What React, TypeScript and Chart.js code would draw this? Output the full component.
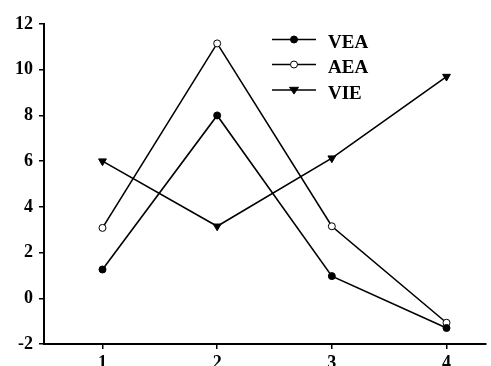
import React, { useEffect, useRef } from "react";
import { Chart, registerables } from "chart.js";

Chart.register(...registerables);

const categories = [1, 2, 3, 4];
const seriesNames = ["VEA", "AEA", "VIE"];
const veaValues = [1.26, 8.0, 0.97, -1.3];
const aeaValues = [3.08, 11.15, 3.15, -1.07];
const vieValues = [6.0, 3.15, 6.13, 9.7];
const yTicks = [-2, 0, 2, 4, 6, 8, 10, 12];

const FONT = "'Liberation Serif', 'DejaVu Serif', serif";

const legendPlugin = {
  id: "customLegend",
  afterDraw(chart: any) {
    const ctx = chart.ctx;
    const rows = [39.5, 64.5, 90];
    ctx.save();
    chart.data.datasets.forEach((ds: any, i: number) => {
      const y = rows[i];
      ctx.strokeStyle = "#000";
      ctx.lineWidth = 1.6;
      ctx.beginPath();
      ctx.moveTo(272, y);
      ctx.lineTo(316, y);
      ctx.stroke();
      ctx.beginPath();
      if (ds.pointStyle === "triangle") {
        const r = 4.5;
        ctx.moveTo(294 - r, y - r * 0.6);
        ctx.lineTo(294 + r, y - r * 0.6);
        ctx.lineTo(294, y + r * 0.9);
        ctx.closePath();
      } else {
        ctx.arc(294, y, 3.5, 0, Math.PI * 2);
      }
      ctx.fillStyle = ds.pointBackgroundColor;
      ctx.fill();
      ctx.lineWidth = 1;
      ctx.stroke();
      ctx.fillStyle = "#000";
      ctx.font = `bold 19px ${FONT}`;
      ctx.textBaseline = "alphabetic";
      ctx.textAlign = "left";
      ctx.fillText(seriesNames[i], 328, y + 8.5);
    });
    ctx.restore();
  },
};

export default function App() {
  const ref = useRef<HTMLCanvasElement>(null);
  useEffect(() => {
    document.body.style.margin = "0";
    const mk = (vals: number[]) => categories.map((c, i) => ({ x: c, y: vals[i] }));
    const chart = new Chart(ref.current!, {
      type: "line",
      data: {
        datasets: [
          {
            label: seriesNames[0],
            data: mk(veaValues),
            borderColor: "#000",
            borderWidth: 1.6,
            pointStyle: "circle",
            pointRadius: 3.5,
            pointBackgroundColor: "#000",
            pointBorderColor: "#000",
            pointBorderWidth: 1,
          },
          {
            label: seriesNames[1],
            data: mk(aeaValues),
            borderColor: "#000",
            borderWidth: 1.6,
            pointStyle: "circle",
            pointRadius: 3.5,
            pointBackgroundColor: "#fff",
            pointBorderColor: "#000",
            pointBorderWidth: 1,
          },
          {
            label: seriesNames[2],
            data: mk(vieValues),
            borderColor: "#000",
            borderWidth: 1.6,
            pointStyle: "triangle",
            pointRotation: 180,
            pointRadius: 4.5,
            pointBackgroundColor: "#000",
            pointBorderColor: "#000",
            pointBorderWidth: 1,
          },
        ],
      },
      options: {
        responsive: false,
        animation: false,
        layout: { padding: { top: 24, right: 0, left: 0, bottom: 0 } },
        plugins: { legend: { display: false }, tooltip: { enabled: false } },
        scales: {
          x: {
            type: "linear",
            min: 0.49,
            max: 4.34,
            afterBuildTicks: (axis: any) => {
              axis.ticks = categories.map((v) => ({ value: v }));
            },
            afterFit: (axis: any) => {
              axis.height = 22;
            },
            grid: { drawOnChartArea: false, drawTicks: true, tickLength: 5, color: "#000", lineWidth: 1.5 },
            border: { display: true, color: "#000", width: 2 },
            ticks: {
              color: "#000",
              font: { family: FONT, size: 18, weight: "bold" },
              padding: 4,
              autoSkip: false,
              maxRotation: 0,
            },
          },
          y: {
            type: "linear",
            min: -2,
            max: 12,
            afterBuildTicks: (axis: any) => {
              axis.ticks = yTicks.map((v) => ({ value: v }));
            },
            afterFit: (axis: any) => {
              axis.width = 44;
            },
            grid: { drawOnChartArea: false, drawTicks: true, tickLength: 5, color: "#000", lineWidth: 1.5 },
            border: { display: true, color: "#000", width: 2 },
            ticks: {
              color: "#000",
              font: { family: FONT, size: 18, weight: "bold" },
              padding: 6,
            },
          },
        },
      },
      plugins: [legendPlugin],
    } as any);
    return () => chart.destroy();
  }, []);
  return (
    <div style={{ position: "absolute", left: 0, top: 0, width: 491, height: 366 }}>
      <canvas ref={ref} width={491} height={366} />
    </div>
  );
}
